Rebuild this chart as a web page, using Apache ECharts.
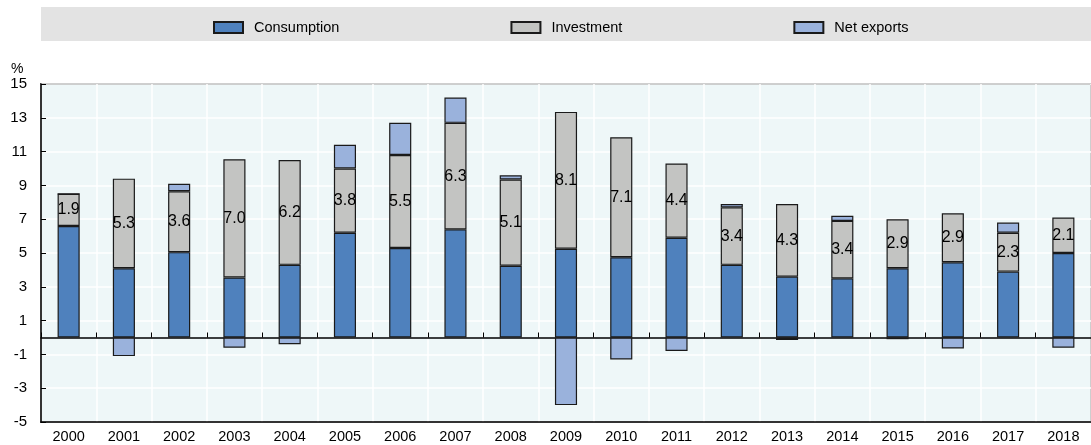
<!DOCTYPE html>
<html>
<head>
<meta charset="utf-8">
<script src="https://cdn.jsdelivr.net/npm/echarts@6/dist/echarts.min.js"></script>
<style>
html,body{margin:0;padding:0;background:#fff;}
#c{width:1091px;height:445px;}
</style>
</head>
<body>
<div id="c"></div>
<script>
const years = ['2000','2001','2002','2003','2004','2005','2006','2007','2008','2009','2010','2011','2012','2013','2014','2015','2016','2017','2018'];
const consumption = [6.6, 4.1, 5.05, 3.55, 4.3, 6.2, 5.3, 6.4, 4.25, 5.25, 4.75, 5.9, 4.3, 3.6, 3.5, 4.1, 4.45, 3.9, 5.0];
const investment  = [1.9, 5.3, 3.6, 7.0, 6.2, 3.8, 5.5, 6.3, 5.1, 8.1, 7.1, 4.4, 3.4, 4.3, 3.4, 2.9, 2.9, 2.3, 2.1];
const netExports  = [0, -1.1, 0.45, -0.6, -0.4, 1.4, 1.9, 1.5, 0.25, -4.0, -1.3, -0.8, 0.2, -0.15, 0.3, -0.1, -0.65, 0.6, -0.6];
const yMin = -5, yMax = 15, yStep = 2;

const FONT = 'Liberation Sans, Arial, sans-serif';
const chart = echarts.init(document.getElementById('c'), null, {renderer: 'canvas'});
const border = {borderColor: '#1a1a1a', borderWidth: 1.2};
chart.setOption({
  animation: false,
  textStyle: {fontFamily: FONT},
  graphic: [{
    type: 'rect', left: 41, top: 7, z: -10,
    shape: {width: 1050, height: 34},
    style: {fill: '#e3e3e3'}
  }],
  title: {text: '%', left: 6, top: 57, textStyle: {fontSize: 14, fontWeight: 'normal', color: '#000', fontFamily: FONT}},
  legend: {
    left: 208, top: 15, itemWidth: 29, itemHeight: 11, itemGap: 171, icon: 'rect',
    textStyle: {fontSize: 14.5, color: '#000', fontFamily: FONT, padding: [0,0,0,6]},
    data: ['Consumption', 'Investment', 'Net exports']
  },
  grid: {
    left: 41, right: -8, top: 84, bottom: 23,
    show: true, backgroundColor: '#eef7f8', borderColor: '#000', borderWidth: 1.5
  },
  xAxis: [{
    type: 'category', data: years, position: 'bottom',
    axisLine: {onZero: false, lineStyle: {color: '#000', width: 1.5}},
    axisTick: {show: false},
    axisLabel: {fontSize: 14.5, color: '#000', margin: 7, interval: 0, fontFamily: FONT},
    splitLine: {show: true, lineStyle: {color: '#ffffff', width: 1.5}}
  }, {
    type: 'category', data: years, position: 'top',
    axisLine: {onZero: true, lineStyle: {color: '#000', width: 1.5}},
    axisTick: {show: true, inside: false, length: 5, lineStyle: {color: '#000', width: 1}},
    axisLabel: {show: false},
    splitLine: {show: false}
  }],
  yAxis: {
    type: 'value', min: yMin, max: yMax, interval: yStep,
    axisLine: {show: true, onZero: false, lineStyle: {color: '#000', width: 1.5}},
    axisTick: {show: true, inside: true, length: 5, lineStyle: {color: '#000'}},
    axisLabel: {fontSize: 15, color: '#000', margin: 14, fontFamily: FONT},
    splitLine: {show: true, lineStyle: {color: '#ffffff', width: 1.5}}
  },
  series: [{
    name: 'Consumption', type: 'bar', stack: 'g', barWidth: '40%',
    data: consumption, itemStyle: Object.assign({color: '#4f81bd'}, border)
  }, {
    name: 'Investment', type: 'bar', stack: 'g', barWidth: '40%',
    data: investment, itemStyle: Object.assign({color: '#c3c4c2'}, border),
    label: {show: true, position: 'inside', fontSize: 16, color: '#000', fontFamily: FONT,
      formatter: p => p.value.toFixed(1)}
  }, {
    name: 'Net exports', type: 'bar', stack: 'g', barWidth: '40%',
    data: netExports, itemStyle: Object.assign({color: '#9ab2dc'}, border)
  }]
});
</script>
</body>
</html>
